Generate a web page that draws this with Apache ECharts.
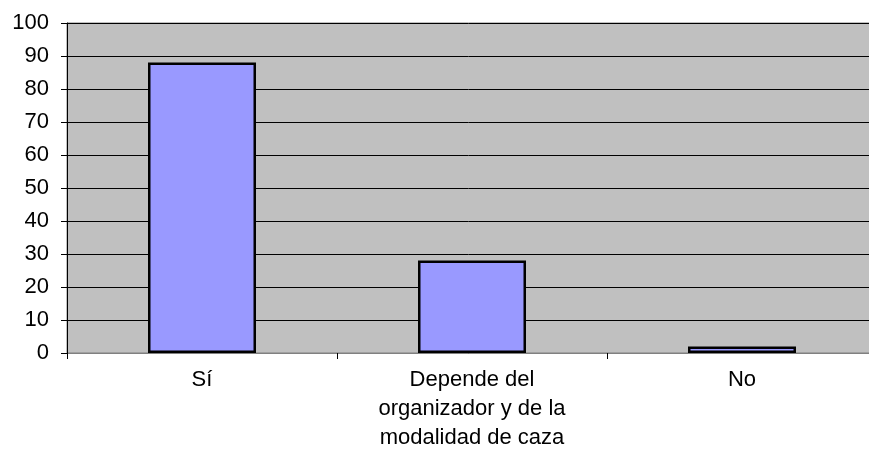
<!DOCTYPE html>
<html>
<head>
<meta charset="utf-8">
<script src="https://cdn.jsdelivr.net/npm/echarts@6/dist/echarts.min.js"></script>
<style>
  html, body { margin: 0; padding: 0; background: #fff; }
  #chart { width: 869px; height: 459px; }
</style>
</head>
<body>
<div id="chart"></div>
<script>
// Answers and their counts
const categories = ['Sí', 'Depende del\norganizador y de la\nmodalidad de caza', 'No'];
const values = [88, 28, 2];
const yTicks = { min: 0, max: 100, interval: 10 };

const labelFont = 'Liberation Sans, Arial, sans-serif';

const chart = echarts.init(document.getElementById('chart'));
chart.setOption({
  animation: false,
  grid: {
    left: 67, top: 23, width: 810, height: 330,
    outerBoundsMode: 'none',
    containLabel: false,
    show: true, backgroundColor: '#C0C0C0', borderColor: '#808080', borderWidth: 1
  },
  xAxis: {
    type: 'category',
    data: categories,
    axisLine: { lineStyle: { color: '#808080', width: 1 } },
    axisTick: { show: true, length: 6, lineStyle: { color: '#000' } },
    axisLabel: {
      color: '#000', fontSize: 22, fontFamily: labelFont,
      lineHeight: 29, margin: 12, interval: 0
    }
  },
  yAxis: {
    type: 'value',
    min: yTicks.min, max: yTicks.max, interval: yTicks.interval,
    axisLine: { show: true, lineStyle: { color: '#000', width: 1 } },
    axisTick: { show: true, length: 6, lineStyle: { color: '#000' } },
    axisLabel: {
      color: '#000', fontSize: 22, fontFamily: labelFont, margin: 18
    },
    splitLine: { show: true, lineStyle: { color: '#000', width: 1 } }
  },
  series: [{
    type: 'bar',
    data: values,
    barWidth: '40%',
    itemStyle: { color: '#9999FF', borderColor: '#000', borderWidth: 2.5 }
  }]
});
</script>
</body>
</html>
